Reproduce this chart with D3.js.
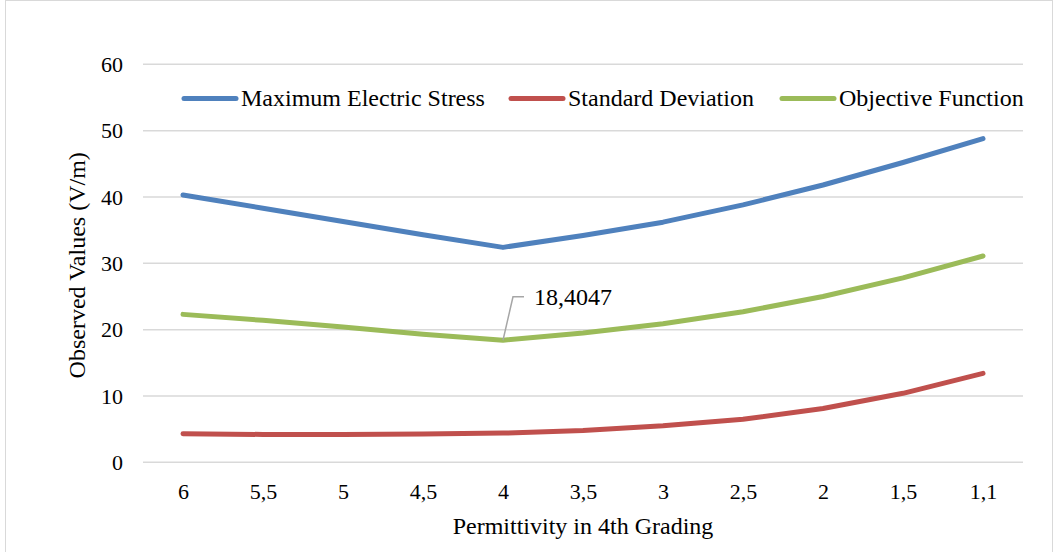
<!DOCTYPE html>
<html>
<head>
<meta charset="utf-8">
<script src="https://cdn.jsdelivr.net/npm/d3@7"></script>
<style>
  html, body { margin: 0; padding: 0; background: #fff; }
  svg { display: block; font-family: "Liberation Serif", "Times New Roman", serif; }
  svg text { font-family: "Liberation Serif", "Times New Roman", serif; }
</style>
</head>
<body>
<svg id="chart" width="1054" height="552"></svg>
<script>
// Permittivity values of the 4th grading layer (categories, left to right)
const categories = ["6", "5,5", "5", "4,5", "4", "3,5", "3", "2,5", "2", "1,5", "1,1"];

// Observed values (V/m) per series
const maxElectricStress = [40.3, 38.3, 36.3, 34.3, 32.4, 34.2, 36.2, 38.8, 41.8, 45.2, 48.8];
const standardDeviation = [4.3, 4.2, 4.2, 4.25, 4.4, 4.8, 5.5, 6.5, 8.1, 10.4, 13.4];
const objectiveFunction = [22.3, 21.4, 20.4, 19.3, 18.4047, 19.5, 20.9, 22.7, 25.0, 27.8, 31.1];

const yTicks = [0, 10, 20, 30, 40, 50, 60];

const seriesNames = ["Maximum Electric Stress", "Standard Deviation", "Objective Function"];
const seriesColors = ["#4F81BD", "#C0504D", "#9BBB59"];
const seriesValues = [maxElectricStress, standardDeviation, objectiveFunction];

// Labelled point: the minimum of the objective function
const labelIndex = 4;
const labelText = "18,4047";

const svg = d3.select("#chart");
const plot = { left: 143, right: 1023, top: 64.3, bottom: 462.3 };

// Outer chart frame
svg.append("rect")
  .attr("x", 5.5).attr("y", 0.5)
  .attr("width", 1047).attr("height", 600)
  .attr("fill", "#fff")
  .attr("stroke", "#d9d9d9").attr("stroke-width", 1);

const x = d3.scalePoint()
  .domain(categories)
  .range([plot.left, plot.right])
  .padding(0.5);

const y = d3.scaleLinear()
  .domain([0, 60])
  .range([plot.bottom, plot.top]);

// Horizontal gridlines
svg.append("g")
  .selectAll("line")
  .data(yTicks)
  .join("line")
  .attr("x1", plot.left).attr("x2", plot.right)
  .attr("y1", d => y(d)).attr("y2", d => y(d))
  .attr("stroke", "#d9d9d9").attr("stroke-width", 1.5);

// Y axis tick labels
const yAxis = d3.axisLeft(y).tickValues(yTicks).tickSize(0).tickPadding(0);
const yg = svg.append("g")
  .attr("transform", `translate(${plot.left - 20},0)`)
  .call(yAxis)
  .attr("font-family", null).attr("font-size", null);
yg.select(".domain").remove();
yg.selectAll("text")
  .attr("font-size", 22).attr("fill", "#000")
  .attr("dy", "0.32em");

// X axis tick labels
const xAxis = d3.axisBottom(x).tickSize(0).tickPadding(0);
const xg = svg.append("g")
  .attr("transform", `translate(0,${plot.bottom + 21})`)
  .call(xAxis)
  .attr("font-family", null).attr("font-size", null);
xg.select(".domain").remove();
xg.selectAll("text")
  .attr("font-size", 22).attr("fill", "#000")
  .attr("dy", "0.71em");

// Axis titles
svg.append("text")
  .attr("x", (plot.left + plot.right) / 2)
  .attr("y", 534)
  .attr("text-anchor", "middle")
  .attr("font-size", 24).attr("fill", "#000")
  .text("Permittivity in 4th Grading");

svg.append("text")
  .attr("transform", `translate(85,${(plot.top + plot.bottom) / 2 + 2}) rotate(-90)`)
  .attr("text-anchor", "middle")
  .attr("font-size", 24).attr("fill", "#000")
  .text("Observed Values (V/m)");

// Series lines
const line = d3.line()
  .x((d, i) => x(categories[i]))
  .y(d => y(d));

svg.append("g")
  .selectAll("path")
  .data(seriesValues)
  .join("path")
  .attr("d", d => line(d))
  .attr("fill", "none")
  .attr("stroke", (d, i) => seriesColors[i])
  .attr("stroke-width", 5)
  .attr("stroke-linecap", "round")
  .attr("stroke-linejoin", "round");

// Data label with leader line on the objective function minimum
const px = x(categories[labelIndex]);
const py = y(objectiveFunction[labelIndex]);
svg.append("path")
  .attr("d", `M${px},${py} L${px + 10},${py - 43.5} L${px + 21},${py - 43.5}`)
  .attr("fill", "none")
  .attr("stroke", "#a6a6a6").attr("stroke-width", 1.5);
svg.append("text")
  .attr("x", px + 31)
  .attr("y", py - 35)
  .attr("font-size", 24).attr("fill", "#000")
  .text(labelText);

// Legend
const legendItems = [
  { name: seriesNames[0], color: seriesColors[0], x: 184 },
  { name: seriesNames[1], color: seriesColors[1], x: 511 },
  { name: seriesNames[2], color: seriesColors[2], x: 782 }
];
const legendY = 98.5;
const lg = svg.append("g");
legendItems.forEach(it => {
  lg.append("line")
    .attr("x1", it.x).attr("x2", it.x + 52)
    .attr("y1", legendY).attr("y2", legendY)
    .attr("stroke", it.color).attr("stroke-width", 5)
    .attr("stroke-linecap", "round");
  lg.append("text")
    .attr("x", it.x + 57)
    .attr("y", legendY + 7.5)
    .attr("font-size", 24).attr("fill", "#000")
    .text(it.name);
});
</script>
</body>
</html>
